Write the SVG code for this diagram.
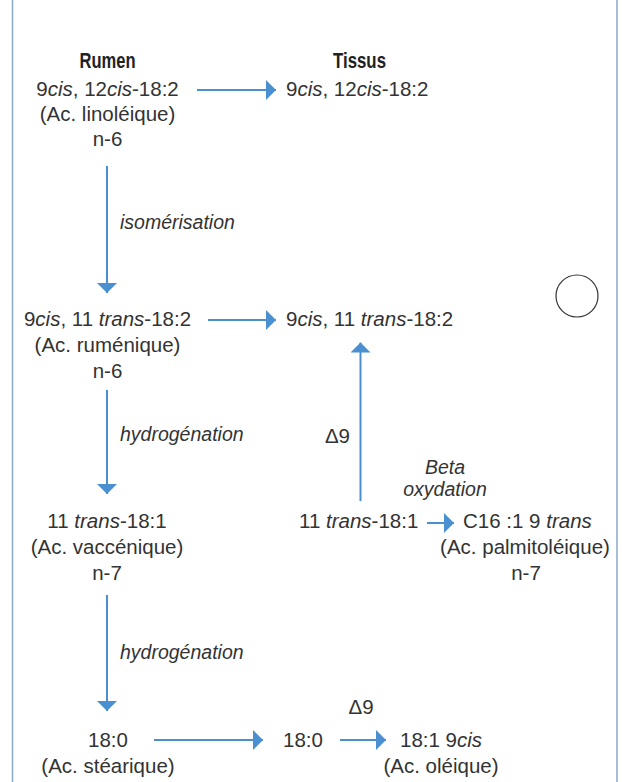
<svg xmlns="http://www.w3.org/2000/svg" width="622" height="782" viewBox="0 0 622 782">
<style>
text{font-family:"Liberation Sans",Arial,sans-serif;font-size:20.5px;fill:#333}
.c{text-anchor:middle}
.b{font-weight:bold;fill:#222;font-size:21.5px}
.i{font-style:italic}
.lbl{font-style:italic;font-size:19.5px}
.arr{stroke:#4a8fcf;stroke-width:2;fill:none;marker-end:url(#ah)}
.frame{stroke:#8aa8c8;stroke-width:1.5}
</style>
<defs>
<marker id="ah" markerUnits="userSpaceOnUse" viewBox="0 0 10 20" markerWidth="10" markerHeight="20" refX="10" refY="10" orient="auto">
<path d="M0,0 L10,10 L0,20 z" fill="#4a8fcf"/>
</marker>
</defs>
<rect width="622" height="782" fill="#fff"/>
<g id="frame">
<line class="frame" x1="12.5" y1="0" x2="12.5" y2="782"/>
<line class="frame" x1="617" y1="0" x2="617" y2="782"/>
</g>
<g id="connectors">
<line class="arr" x1="197" y1="90" x2="276" y2="90"/>
<line class="arr" x1="107" y1="166" x2="107" y2="293"/>
<line class="arr" x1="208" y1="320" x2="276" y2="320"/>
<line class="arr" x1="360.5" y1="501" x2="360.5" y2="342.5"/>
<line class="arr" x1="107" y1="390" x2="107" y2="494"/>
<line class="arr" x1="427" y1="523" x2="454" y2="523"/>
<line class="arr" x1="107" y1="595" x2="107" y2="711"/>
<line class="arr" x1="154" y1="740" x2="263" y2="740"/>
<line class="arr" x1="340" y1="740" x2="386" y2="740"/>
</g>
<g id="labels">
<text class="lbl" x="120" y="229">isomérisation</text>
<text class="lbl" x="120" y="441">hydrogénation</text>
<text class="lbl" x="120" y="659">hydrogénation</text>
<text x="350" y="443" text-anchor="end">Δ9</text>
<text class="lbl c" x="445" y="474">Beta</text>
<text class="lbl c" x="445" y="496">oxydation</text>
<text class="c" x="361" y="714">Δ9</text>
</g>
<g id="rumen-title"><text class="b c" x="107.5" y="68" textLength="56" lengthAdjust="spacingAndGlyphs">Rumen</text></g>
<g id="tissus-title"><text class="b c" x="359.5" y="68" textLength="53" lengthAdjust="spacingAndGlyphs">Tissus</text></g>
<g id="linoleique">
<text class="c" x="107.5" y="96">9<tspan class="i">cis</tspan>, 12<tspan class="i">cis</tspan>-18:2</text>
<text class="c" x="107.5" y="121">(Ac. linoléique)</text>
<text class="c" x="107.5" y="146">n-6</text>
</g>
<g id="linoleique-tissus">
<text x="286" y="96">9<tspan class="i">cis</tspan>, 12<tspan class="i">cis</tspan>-18:2</text>
</g>
<g id="rumenique">
<text class="c" x="107.5" y="326">9<tspan class="i">cis</tspan>, 11 <tspan class="i">trans</tspan>-18:2</text>
<text class="c" x="107.5" y="352">(Ac. ruménique)</text>
<text class="c" x="107.5" y="378">n-6</text>
</g>
<g id="rumenique-tissus">
<text x="286" y="326">9<tspan class="i">cis</tspan>, 11 <tspan class="i">trans</tspan>-18:2</text>
</g>
<g id="vaccenique">
<text class="c" x="107" y="528">11 <tspan class="i">trans</tspan>-18:1</text>
<text class="c" x="107" y="554">(Ac. vaccénique)</text>
<text class="c" x="107" y="580">n-7</text>
</g>
<g id="vaccenique-tissus">
<text x="299" y="528">11 <tspan class="i">trans</tspan>-18:1</text>
</g>
<g id="palmitoleique">
<text x="463" y="528">C16 :1 9 <tspan class="i">trans</tspan></text>
<text class="c" x="525" y="554">(Ac. palmitoléique)</text>
<text class="c" x="526" y="580">n-7</text>
</g>
<g id="stearique">
<text class="c" x="108" y="747">18:0</text>
<text class="c" x="108" y="773">(Ac. stéarique)</text>
</g>
<g id="stearique-tissus"><text class="c" x="303" y="747">18:0</text></g>
<g id="oleique">
<text x="400" y="747">18:1 9<tspan class="i">cis</tspan></text>
<text class="c" x="441" y="773">(Ac. oléique)</text>
</g>
<g id="circle"><circle cx="577" cy="296" r="21" fill="none" stroke="#333" stroke-width="1.2"/></g>
</svg>
